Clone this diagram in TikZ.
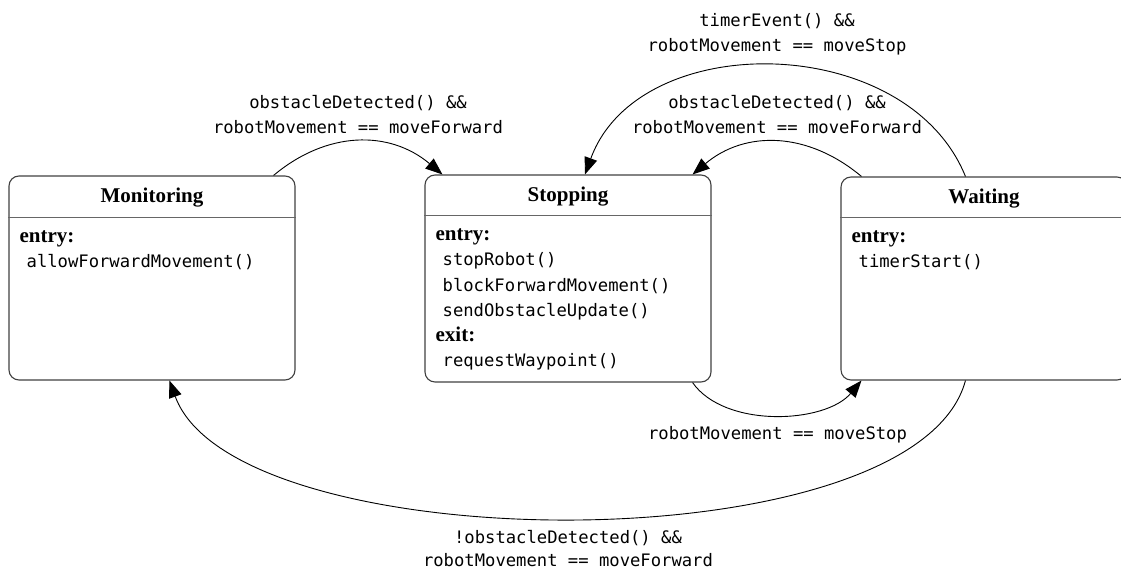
\documentclass[tikz,border=0pt]{standalone}
\usepackage{fontspec}
\setmainfont{Liberation Serif}
\newfontfamily\codefont{DejaVu Sans Mono}
\usetikzlibrary{arrows.meta,calc}
\begin{document}
\begin{tikzpicture}[x=1pt,y=1pt,
  state/.style={draw=black!75, line width=1.1pt, rounded corners=10pt,
    minimum width=286pt, minimum height=205pt, inner sep=0pt},
  divider/.style={draw=black!60, line width=1.1pt},
  title/.style={font=\fontsize{21}{24}\selectfont\bfseries, anchor=base, inner sep=0pt},
  kw/.style={font=\fontsize{21}{24}\selectfont\bfseries, anchor=base west, inner sep=0pt},
  act/.style={font=\codefont\fontsize{17.2}{20}\selectfont, anchor=base west, inner sep=0pt},
  guard/.style={font=\codefont\fontsize{17.2}{20}\selectfont, anchor=base, inner sep=0pt},
  trans/.style={draw=black, line width=0.9pt, -{Triangle[length=17pt,width=13pt]}},
]
\useasboundingbox (0,0) rectangle (1121,572);
\clip (0,0) rectangle (1121,572);

% states
\node[state, minimum height=204pt] (mon)  at (152,294)   {};
\node[state, minimum height=207pt] (stop) at (568,293.5) {};
\node[state, minimum height=203pt] (wait) at (984,293.5) {};

% compartment dividers
\draw[divider] ([yshift=-42pt]mon.north west)  -- ([yshift=-42pt]mon.north east);
\draw[divider] ([yshift=-41pt]stop.north west) -- ([yshift=-41pt]stop.north east);
\draw[divider] ([yshift=-41pt]wait.north west) -- ([yshift=-41pt]wait.north east);

% titles
\node[title] (monT)  at ([yshift=-27pt]mon.north)  {Monitoring};
\node[title] (stopT) at ([yshift=-27pt]stop.north) {Stopping};
\node[title] (waitT) at ([yshift=-27pt]wait.north) {Waiting};

% Monitoring body
\node[kw]  (monE)  at ([xshift=11pt,yshift=-67.5pt]mon.north west) {entry:};
\node[act] (monA1) at ([xshift=18pt,yshift=-92.5pt]mon.north west) {allowForwardMovement()};

% Stopping body
\node[kw]  (stopE)  at ([xshift=11pt,yshift=-66.5pt]stop.north west)  {entry:};
\node[act] (stopA1) at ([xshift=18pt,yshift=-91.5pt]stop.north west)  {stopRobot()};
\node[act] (stopA2) at ([xshift=18pt,yshift=-117pt]stop.north west)   {blockForwardMovement()};
\node[act] (stopA3) at ([xshift=18pt,yshift=-142pt]stop.north west)   {sendObstacleUpdate()};
\node[kw]  (stopX)  at ([xshift=11pt,yshift=-167.5pt]stop.north west) {exit:};
\node[act] (stopX1) at ([xshift=18pt,yshift=-192.5pt]stop.north west) {requestWaypoint()};

% Waiting body
\node[kw]  (waitE)  at ([xshift=11pt,yshift=-66.5pt]wait.north west) {entry:};
\node[act] (waitA1) at ([xshift=18pt,yshift=-91.5pt]wait.north west) {timerStart()};

% attachment points of the transitions
\coordinate (a1) at ([xshift=-22pt]mon.north east);
\coordinate (a2) at ([xshift=18pt]stop.north west);
\coordinate (b1) at ([xshift=21pt]wait.north west);
\coordinate (b2) at ([xshift=-19pt]stop.north east);
\coordinate (c1) at ([xshift=125pt]wait.north west);
\coordinate (c2) at ([xshift=17pt]stop.north);
\coordinate (d1) at ([xshift=-19pt]stop.south east);
\coordinate (d2) at ([xshift=21pt]wait.south west);
\coordinate (e1) at ([xshift=125pt]wait.south west);
\coordinate (e2) at ([xshift=161pt]mon.south west);

% transitions
\draw[trans] (a1) to[out=40,in=140,looseness=1.05] (a2);
\draw[trans] (b1) to[out=140,in=40,looseness=1.05] (b2);
\draw[trans] (c1) to[out=112,in=70,looseness=1.05] (c2);
\draw[trans] (d1) to[out=-55,in=-130,looseness=0.85] (d2);
\draw[trans] (e1) to[out=-105,in=-70,looseness=0.62] (e2);

% guards
\node[guard] (g1a) at (358,463.5) {obstacleDetected() \&\&};
\node[guard] (g1b) at (358,438.5) {robotMovement == moveForward};
\node[guard] (g2a) at (777,463.5) {obstacleDetected() \&\&};
\node[guard] (g2b) at (777,438.5) {robotMovement == moveForward};
\node[guard] (g3a) at (777,545.5) {timerEvent() \&\&};
\node[guard] (g3b) at (777,520.5) {robotMovement == moveStop};
\node[guard] (g4)  at (777.5,132.5) {robotMovement == moveStop};
\node[guard] (g5a) at (568,28.5)  {!obstacleDetected() \&\&};
\node[guard] (g5b) at (568,5.5)   {robotMovement == moveForward};
\end{tikzpicture}
\end{document}
